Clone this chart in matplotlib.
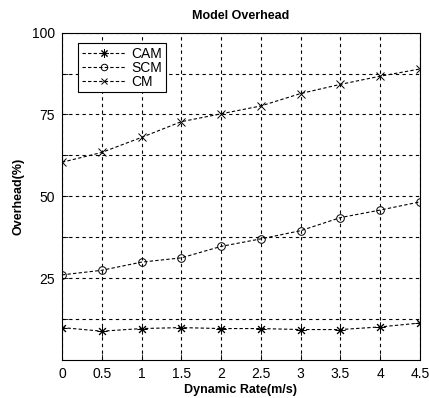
import matplotlib
matplotlib.use("Agg")
import matplotlib.pyplot as plt

rates = [0, 0.5, 1, 1.5, 2, 2.5, 3, 3.5, 4, 4.5]
cam = [9.9, 8.8, 9.6, 9.9, 9.6, 9.6, 9.3, 9.3, 10.1, 11.3]
scm = [26.0, 27.4, 29.9, 31.2, 34.7, 37.0, 39.5, 43.5, 45.8, 48.3]
cm = [60.4, 63.4, 68.0, 72.8, 75.2, 77.6, 81.4, 84.2, 86.7, 88.9]
yticks = [12.5, 25, 37.5, 50, 62.5, 75, 87.5, 100]
ytick_labels = ["", "25", "", "50", "", "75", "", "100"]
xtick_labels = ["0", "0.5", "1", "1.5", "2", "2.5", "3", "3.5", "4", "4.5"]

plt.rcParams['font.family'] = ['Liberation Sans', 'DejaVu Sans']

fig = plt.figure(figsize=(4.29, 3.98), dpi=100)
ax = fig.add_axes([0.1445, 0.0955, 0.8345, 0.8225])

ls = (0, (3, 2))
ax.plot(rates, cam, color='black', linestyle=ls, linewidth=0.8, marker=(8, 2, 0), markersize=7, markeredgewidth=0.7, label='CAM')
ax.plot(rates, scm, color='black', linestyle=ls, linewidth=0.8, marker='o', markersize=5.5, markerfacecolor='none', markeredgewidth=0.7, label='SCM')
ax.plot(rates, cm, color='black', linestyle=ls, linewidth=0.8, marker='x', markersize=5.5, markeredgewidth=0.7, label='CM')

ax.set_xlim(0, 4.5)
ax.set_ylim(0, 100)
ax.set_xticks(rates)
ax.set_xticklabels(xtick_labels)
ax.set_yticks(yticks)
ax.set_yticklabels(ytick_labels)
ax.tick_params(direction='in', labelsize=10, length=4, width=0.6, pad=5)
ax.grid(True, color='black', linestyle=(0, (3, 3)), linewidth=0.8)
for s in ax.spines.values():
    s.set_linewidth(0.8)
    s.set_color('black')

ax.set_title('Model Overhead', fontsize=9, fontweight='bold', pad=10)
ax.set_xlabel('Dynamic Rate(m/s)', fontsize=9, fontweight='bold', labelpad=2)
ax.set_ylabel('Overhead(%)', fontsize=9, fontweight='bold', labelpad=5)

leg = ax.legend(loc='upper left', bbox_to_anchor=(0.045, 0.968), borderaxespad=0,
                fontsize=10, fancybox=False, framealpha=1,
                edgecolor='black', handlelength=3.2, markerscale=0.85,
                borderpad=0.25, labelspacing=0.0, handletextpad=0.4)
leg.get_frame().set_linewidth(0.8)

fig.savefig('out.png', dpi=100)
